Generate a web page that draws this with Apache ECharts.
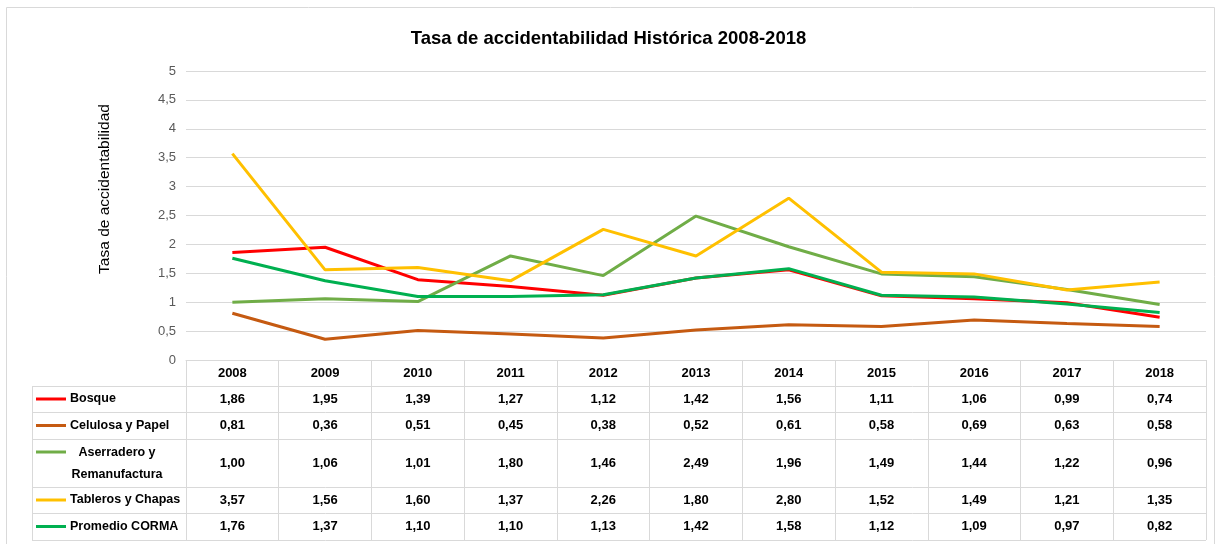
<!DOCTYPE html>
<html>
<head>
<meta charset="utf-8">
<script src="https://cdn.jsdelivr.net/npm/echarts@6/dist/echarts.min.js"></script>
<style>
  html, body { margin: 0; padding: 0; background: #fff; }
  #chart { width: 1217px; height: 544px; }
</style>
</head>
<body>
<div id="chart"></div>
<script>
const years = ['2008', '2009', '2010', '2011', '2012', '2013', '2014', '2015', '2016', '2017', '2018'];
const bosque = [1.86, 1.95, 1.39, 1.27, 1.12, 1.42, 1.56, 1.11, 1.06, 0.99, 0.74];
const celulosa = [0.81, 0.36, 0.51, 0.45, 0.38, 0.52, 0.61, 0.58, 0.69, 0.63, 0.58];
const aserradero = [1.00, 1.06, 1.01, 1.80, 1.46, 2.49, 1.96, 1.49, 1.44, 1.22, 0.96];
const tableros = [3.57, 1.56, 1.60, 1.37, 2.26, 1.80, 2.80, 1.52, 1.49, 1.21, 1.35];
const promedio = [1.76, 1.37, 1.10, 1.10, 1.13, 1.42, 1.58, 1.12, 1.09, 0.97, 0.82];

const FONT = 'Liberation Sans';
const GRID_COLOR = '#d9d9d9';

// series list, also drives the data table rows
const rows = [
  { name: 'Bosque', label: 'Bosque', data: bosque, color: '#ff0000', top: 386, h: 26 },
  { name: 'Celulosa y Papel', label: 'Celulosa y Papel', data: celulosa, color: '#c55a11', top: 412, h: 27 },
  { name: 'Aserradero y Remanufactura', label: 'Aserradero y\nRemanufactura', data: aserradero, color: '#70ad47', top: 439, h: 48, twoLine: true },
  { name: 'Tableros y Chapas', label: 'Tableros y Chapas', data: tableros, color: '#ffc000', top: 487, h: 26 },
  { name: 'Promedio CORMA', label: 'Promedio CORMA', data: promedio, color: '#00b050', top: 513, h: 27 }
];

const chart = echarts.init(document.getElementById('chart'));

const fmt = v => v.toFixed(2).replace('.', ',');

chart.setOption({
  animation: false,
  title: {
    text: 'Tasa de accidentabilidad Histórica 2008-2018',
    left: 'center',
    top: 24,
    textStyle: { fontFamily: FONT, fontSize: 18.5, fontWeight: 'bold', color: '#000' }
  },
  grid: { left: 186, right: 11, top: 71, bottom: 184, containLabel: false },
  xAxis: {
    type: 'category',
    data: years,
    boundaryGap: true,
    axisLine: { lineStyle: { color: GRID_COLOR } },
    axisTick: { show: true, length: 180, lineStyle: { color: GRID_COLOR } },
    axisLabel: { fontFamily: FONT, fontSize: 13, fontWeight: 'bold', color: '#000', margin: 7 }
  },
  yAxis: {
    type: 'value',
    min: 0,
    max: 5,
    interval: 0.5,
    axisLine: { show: false },
    axisTick: { show: false },
    axisLabel: {
      fontFamily: FONT, fontSize: 13, color: '#595959', margin: 10,
      formatter: v => String(v).replace('.', ',')
    },
    splitLine: { lineStyle: { color: GRID_COLOR } }
  },
  series: rows.map(r => ({
    name: r.name,
    type: 'line',
    data: r.data,
    showSymbol: false,
    lineStyle: { color: r.color, width: 3 },
    itemStyle: { color: r.color }
  }))
});

// data table below the plot, columns taken from the x axis
function drawTable() {
  const g = [];
  const rect = chart.getModel().getComponent('grid').coordinateSystem.getRect();
  const right = rect.x + rect.width;
  const tableLeft = 32;

  // outer frame of the chart area
  g.push({ type: 'rect', shape: { x: 6.5, y: 7.5, width: 1208, height: 540 },
    style: { fill: null, stroke: GRID_COLOR, lineWidth: 1 }, silent: true });

  // y axis title (sits a bit above the plot middle, as in the original)
  g.push({ type: 'text', x: 105, y: 189, rotation: Math.PI / 2,
    style: { text: 'Tasa de accidentabilidad', fontFamily: FONT, fontSize: 15.5, fill: '#000',
      align: 'center', verticalAlign: 'middle' } });

  // horizontal row lines
  rows.forEach(r => {
    g.push({ type: 'line', shape: { x1: tableLeft, y1: r.top + 0.5, x2: right, y2: r.top + 0.5 },
      style: { stroke: GRID_COLOR, lineWidth: 1 } });
  });
  const last = rows[rows.length - 1];
  g.push({ type: 'line', shape: { x1: tableLeft, y1: last.top + last.h + 0.5, x2: right, y2: last.top + last.h + 0.5 },
    style: { stroke: GRID_COLOR, lineWidth: 1 } });
  // left border of the legend column
  g.push({ type: 'line', shape: { x1: tableLeft + 0.5, y1: rows[0].top, x2: tableLeft + 0.5, y2: last.top + last.h },
    style: { stroke: GRID_COLOR, lineWidth: 1 } });

  rows.forEach(r => {
    const keyY = r.twoLine ? r.top + 13 : r.top + r.h / 2;
    g.push({ type: 'line', shape: { x1: 36, y1: keyY, x2: 66, y2: keyY },
      style: { stroke: r.color, lineWidth: 3 } });
    if (r.twoLine) {
      g.push({ type: 'text', x: 117, y: r.top + r.h / 2 + 1,
        style: { text: r.label, fontFamily: FONT, fontSize: 12.5, fontWeight: 'bold', fill: '#000',
          align: 'center', verticalAlign: 'middle', lineHeight: 22 } });
    } else {
      g.push({ type: 'text', x: 70, y: r.top + r.h / 2,
        style: { text: r.label, fontFamily: FONT, fontSize: 12.5, fontWeight: 'bold', fill: '#000',
          align: 'left', verticalAlign: 'middle' } });
    }
    r.data.forEach((v, i) => {
      const cx = chart.convertToPixel({ xAxisIndex: 0 }, years[i]);
      g.push({ type: 'text', x: cx, y: r.top + r.h / 2,
        style: { text: fmt(v), fontFamily: FONT, fontSize: 13, fontWeight: 'bold', fill: '#000',
          align: 'center', verticalAlign: 'middle' } });
    });
  });

  chart.setOption({ graphic: { elements: g } });
}
drawTable();
</script>
</body>
</html>
